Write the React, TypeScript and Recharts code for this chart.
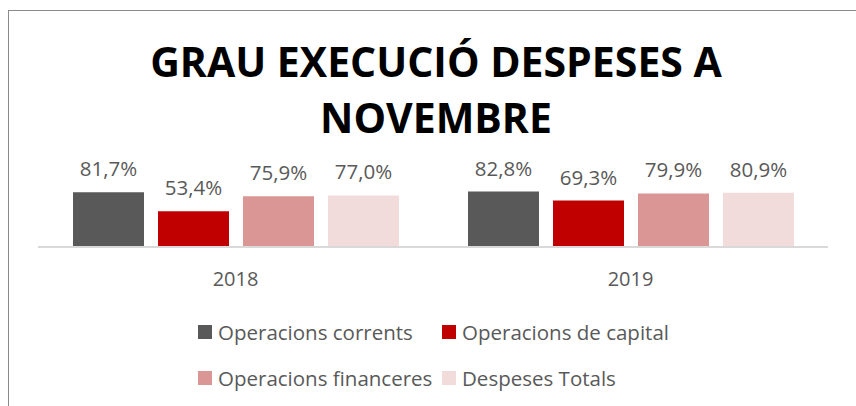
import { BarChart, Bar, XAxis, YAxis, LabelList } from 'recharts';

const years = ['2018', '2019'];
const corrents = [81.7, 82.8];
const capital = [53.4, 69.3];
const financeres = [75.9, 79.9];
const totals = [77.0, 80.9];

const SERIES = [
  { key: 'corrents', name: 'Operacions corrents', color: '#595959', values: corrents },
  { key: 'capital', name: 'Operacions de capital', color: '#C00000', values: capital },
  { key: 'financeres', name: 'Operacions financeres', color: '#DA9694', values: financeres },
  { key: 'totals', name: 'Despeses Totals', color: '#F2DCDB', values: totals },
];

const data = years.map((year, i) => {
  const row: Record<string, string | number> = { year };
  for (const s of SERIES) row[s.key] = s.values[i];
  return row;
});

const FONT = '"Open Sans", sans-serif';
const TEXT = '#595959';

const fmt = (v: number) => v.toFixed(1).replace('.', ',') + '%';

export default function App() {
  return (
    <div style={{ position: 'relative', width: 856, height: 406, overflow: 'hidden', fontFamily: FONT }}>
      <style>{'body{margin:0;overflow:hidden}'}</style>
      {/* chart frame, cut off on the right and bottom */}
      <div
        style={{
          position: 'absolute',
          left: 8,
          top: 10,
          width: 900,
          height: 450,
          borderLeft: '1px solid #8a8a8a',
          borderTop: '1px solid #8a8a8a',
        }}
      />
      <div
        style={{
          position: 'absolute',
          left: 8,
          top: 33,
          width: 856,
          textAlign: 'center',
          fontWeight: 700,
          fontSize: 41,
          lineHeight: '56px',
          color: '#000',
        }}
      >
        GRAU EXECUCIÓ DESPESES A
        <br />
        NOVEMBRE
      </div>
      <div style={{ position: 'absolute', left: 0, top: 0 }}>
        <BarChart
          width={856}
          height={406}
          data={data}
          margin={{ top: 180, right: 28, bottom: 129, left: 38 }}
          barSize={71}
          barGap={14}
        >
          <XAxis
            dataKey="year"
            height={30}
            axisLine={{ stroke: '#D9D9D9', strokeWidth: 2 }}
            tickLine={false}
            tickMargin={19}
            tick={{ fill: TEXT, fontSize: 20, fontFamily: FONT }}
          />
          <YAxis hide domain={[0, 100]} />
          {SERIES.map((s) => (
            <Bar key={s.key} dataKey={s.key} name={s.name} fill={s.color} isAnimationActive={false}>
              <LabelList
                dataKey={s.key}
                position="top"
                offset={16}
                formatter={(v: number) => fmt(v)}
                style={{ fill: TEXT, fontSize: 20.5, fontFamily: FONT }}
              />
            </Bar>
          ))}
        </BarChart>
      </div>
      {/* legend */}
      {SERIES.map((s, i) => (
        <div
          key={s.key}
          style={{
            position: 'absolute',
            left: i % 2 === 0 ? 198 : 442,
            top: i < 2 ? 318 : 364,
            height: 28,
            display: 'flex',
            alignItems: 'center',
            whiteSpace: 'nowrap',
            fontSize: 20.5,
            color: TEXT,
          }}
        >
          <span style={{ width: 14, height: 14, background: s.color, marginRight: 6, display: 'inline-block' }} />
          {s.name}
        </div>
      ))}
    </div>
  );
}
